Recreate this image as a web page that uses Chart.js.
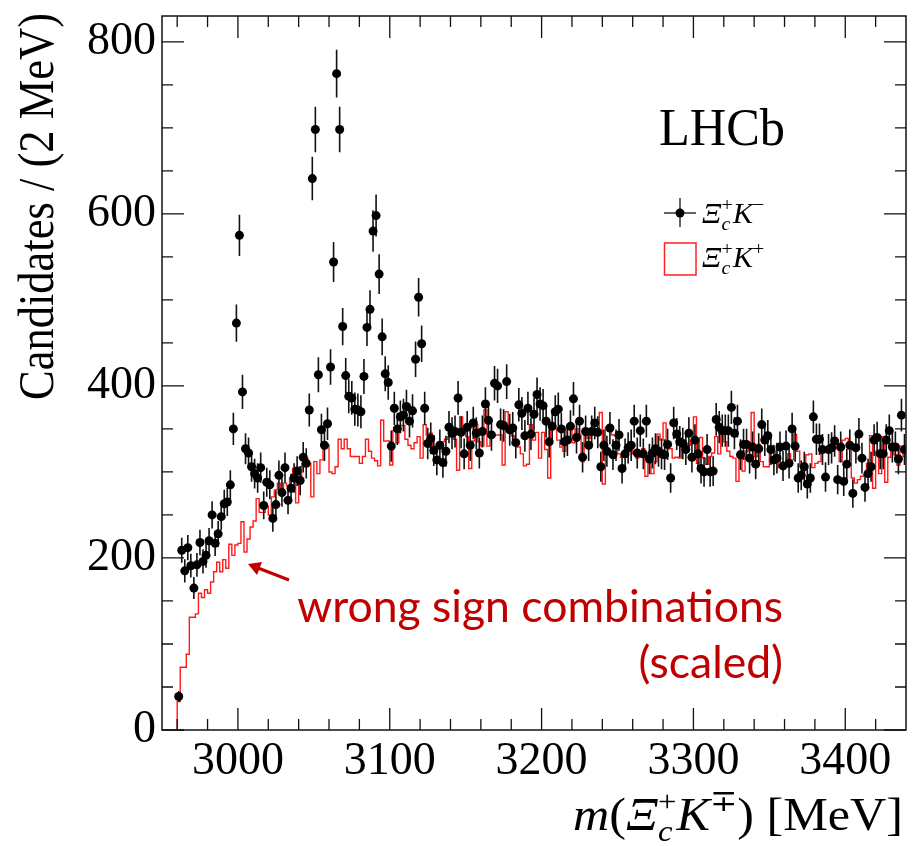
<!DOCTYPE html>
<html>
<head>
<meta charset="utf-8">
<title>Xi_c K mass spectrum</title>
<script src="https://cdn.jsdelivr.net/npm/chart.js@4.4.1/dist/chart.umd.min.js"></script>
<style>
  body { margin: 0; background: #fff; }
  #wrap { width: 915px; height: 846px; }
</style>
</head>
<body>
<div id="wrap"><canvas id="myChart" width="915" height="846"></canvas></div>
<script>
// 2 MeV bins, first bin starts at 2960 MeV
var binStart = 2960;
var binWidth = 2;

// Xi_c+ K- candidates per bin
var rightSign = [
    39, 209, 185, 212, 191, 165, 192, 218, 196, 203,
    220, 250, 217, 228, 248, 263, 265, 285, 350, 473,
    575, 393, 327, 322, 306, 298, 293, 305, 261, 288,
    285, 246, 262, 296, 276, 305, 267, 281, 293, 301,
    290, 317, 310, 372, 641, 698, 413, 349, 331, 356,
    422, 544, 763, 698, 469, 412, 388, 386, 373, 372,
    370, 411, 468, 489, 580, 598, 530, 457, 414, 404,
    330, 374, 350, 364, 366, 376, 359, 371, 431, 503,
    449, 374, 333, 339, 325, 314, 331, 311, 324, 352,
    345, 347, 386, 346, 321, 352, 331, 357, 345, 322,
    347, 379, 360, 343, 403, 400, 355, 354, 405, 349,
    351, 334, 378, 368, 342, 374, 344, 367, 390, 379,
    377, 359, 335, 353, 370, 373, 350, 335, 337, 353,
    385, 340, 359, 317, 347, 331, 347, 357, 346, 306,
    331, 324, 351, 320, 331, 343, 304, 321, 328, 331,
    359, 322, 348, 321, 359, 315, 322, 327, 324, 321,
    320, 332, 293, 357, 344, 335, 333, 326, 345, 317,
    337, 321, 304, 300, 326, 300, 301, 361, 352, 348,
    348, 348, 375, 345, 359, 320, 332, 332, 316, 329,
    309, 327, 355, 337, 342, 326, 314, 316, 329, 307,
    330, 310, 350, 330, 293, 296, 306, 286, 293, 364,
    338, 338, 326, 294, 326, 328, 336, 291, 329, 289,
    309, 331, 275, 328, 344, 316, 282, 298, 306, 337,
    340, 321, 321, 337, 348, 329, 329, 315, 366, 326
];

// Xi_c+ K+ wrong sign histogram (scaled)
var wrongSign = [
    33, 73, 73, 88, 131, 131, 135, 159, 154, 163,
    159, 172, 184, 195, 184, 198, 188, 216, 203, 215,
    217, 242, 207, 222, 236, 243, 269, 253, 253, 260,
    250, 271, 279, 287, 273, 287, 284, 293, 304, 264,
    295, 310, 316, 310, 271, 312, 298, 314, 331, 331,
    300, 298, 306, 338, 327, 338, 327, 318, 318, 318,
    310, 318, 338, 324, 316, 313, 307, 360, 336, 336,
    308, 348, 334, 354, 354, 338, 331, 327, 334, 341,
    316, 355, 343, 345, 326, 330, 333, 335, 338, 341,
    353, 338, 302, 364, 348, 341, 304, 336, 355, 335,
    330, 372, 330, 343, 343, 343, 343, 308, 370, 345,
    342, 331, 329, 321, 307, 309, 355, 337, 346, 316,
    346, 326, 293, 352, 350, 337, 329, 324, 350, 350,
    334, 350, 343, 312, 347, 339, 345, 350, 345, 369,
    286, 352, 349, 343, 342, 321, 317, 324, 326, 327,
    321, 316, 317, 327, 295, 312, 298, 312, 344, 337,
    357, 327, 327, 316, 317, 316, 329, 333, 331, 337,
    364, 310, 340, 316, 309, 318, 322, 341, 321, 343,
    335, 324, 318, 316, 289, 324, 301, 324, 327, 369,
    318, 332, 312, 306, 306, 324, 324, 314, 305, 303,
    310, 321, 314, 344, 324, 306, 310, 320, 321, 305,
    310, 312, 327, 326, 327, 327, 329, 327, 312, 337,
    339, 329, 293, 287, 291, 295, 297, 310, 342, 281,
    324, 298, 341, 288, 317, 330, 320, 308, 330, 318
];

var xTickLabels = [3000, 3100, 3200, 3300, 3400];
var yTickLabels = [0, 200, 400, 600, 800];

var serif = "'Liberation Serif', 'DejaVu Serif', serif";
var darkRed = '#c00000';

// points at bin centres
function pointData() {
    var out = [];
    for (var i = 0; i < rightSign.length; i++) {
        out.push({ x: binStart + binWidth * (i + 0.5), y: rightSign[i] });
    }
    return out;
}

// histogram outline: both edges of every bin
function stepData() {
    var out = [{ x: binStart, y: 0 }];
    for (var i = 0; i < wrongSign.length; i++) {
        out.push({ x: binStart + binWidth * i, y: wrongSign[i] });
        out.push({ x: binStart + binWidth * (i + 1), y: wrongSign[i] });
    }
    return out;
}

// text with sub/superscripts; parts with keep:true do not advance the pen
function layoutRich(ctx, parts) {
    var x = 0, held = 0, items = [];
    parts.forEach(function(p) {
        ctx.font = p.f;
        var w = ctx.measureText(p.t).width;
        items.push({ p: p, x: x });
        if (p.keep) {
            held = Math.max(held, w);
        } else {
            x += Math.max(w, held);
            held = 0;
        }
    });
    return { items: items, width: x };
}

function drawRich(ctx, parts, left, base, sx, color) {
    var lay = layoutRich(ctx, parts);
    ctx.save();
    ctx.translate(left, base);
    ctx.scale(sx, 1);
    ctx.fillStyle = color;
    ctx.textAlign = 'left';
    ctx.textBaseline = 'alphabetic';
    lay.items.forEach(function(it) {
        ctx.font = it.p.f;
        ctx.fillText(it.p.t, it.x, it.p.dy || 0);
    });
    ctx.restore();
    return lay.width * sx;
}

function xiK(size, sign) {
    var small = Math.round(size * 0.66);
    return [
        { t: '\u039E', f: 'italic ' + size + 'px ' + serif },
        { t: 'c', f: 'italic ' + small + 'px ' + serif, dy: size * 0.24, keep: true },
        { t: '+', f: small + 'px ' + serif, dy: -size * 0.42 },
        { t: 'K', f: 'italic ' + size + 'px ' + serif },
        { t: sign, f: small + 'px ' + serif, dy: -size * 0.42 }
    ];
}

var rootStyle = {
    id: 'rootStyle',
    beforeDatasetDraw: function(chart, args) {
        if (args.index !== 1) return;
        // vertical error bars, sqrt(N)
        var ctx = chart.ctx, xs = chart.scales.x, ys = chart.scales.y;
        ctx.save();
        ctx.strokeStyle = '#111';
        ctx.lineWidth = 1.6;
        ctx.beginPath();
        for (var i = 0; i < rightSign.length; i++) {
            var px = xs.getPixelForValue(binStart + binWidth * (i + 0.5));
            var e = Math.sqrt(rightSign[i]);
            ctx.moveTo(px, ys.getPixelForValue(rightSign[i] - e));
            ctx.lineTo(px, ys.getPixelForValue(rightSign[i] + e));
        }
        ctx.stroke();
        ctx.restore();
    },
    afterDraw: function(chart) {
        var ctx = chart.ctx, a = chart.chartArea;
        var xs = chart.scales.x, ys = chart.scales.y;
        var m, v, p, len;

        // frame
        ctx.save();
        ctx.strokeStyle = '#111';
        ctx.lineWidth = 1.5;
        ctx.strokeRect(a.left, a.top, a.right - a.left, a.bottom - a.top);

        // inward ticks on all four sides
        ctx.lineWidth = 1.3;
        ctx.beginPath();
        for (m = 2960; m < 3440; m += 20) {
            p = xs.getPixelForValue(m);
            len = (m % 100 === 0) ? 22 : 11;
            ctx.moveTo(p, a.bottom); ctx.lineTo(p, a.bottom - len);
            ctx.moveTo(p, a.top); ctx.lineTo(p, a.top + len);
        }
        for (v = 0; v <= 800; v += 50) {
            p = ys.getPixelForValue(v);
            len = (v % 200 === 0) ? 22 : 11;
            ctx.moveTo(a.left, p); ctx.lineTo(a.left + len, p);
            ctx.moveTo(a.right, p); ctx.lineTo(a.right - len, p);
        }
        ctx.stroke();

        // y title, rotated
        var yTitle = 'Candidates / (2 MeV)';
        ctx.font = '50px ' + serif;
        var tw = ctx.measureText(yTitle).width;
        ctx.translate(53, 13);
        ctx.rotate(-Math.PI / 2);
        ctx.scale(387 / tw, 1);
        ctx.fillStyle = '#000';
        ctx.textAlign = 'right';
        ctx.textBaseline = 'alphabetic';
        ctx.fillText(yTitle, 0, 0);
        ctx.restore();

        // x title
        var xParts = [{ t: 'm', f: 'italic 46px ' + serif }, { t: '(', f: '46px ' + serif }]
            .concat(xiK(46, '\u2213'))
            .concat([{ t: ')', f: '46px ' + serif }, { t: ' [MeV]', f: '46px ' + serif }]);
        var xw = layoutRich(ctx, xParts).width;
        var sx = 330 / xw;
        drawRich(ctx, xParts, 903 - xw * sx, 830, sx, '#000');

        // LHCb label
        ctx.save();
        ctx.font = '52px ' + serif;
        var lw = ctx.measureText('LHCb').width;
        ctx.translate(659, 145);
        ctx.scale(126 / lw, 1);
        ctx.fillStyle = '#000';
        ctx.textAlign = 'left';
        ctx.textBaseline = 'alphabetic';
        ctx.fillText('LHCb', 0, 0);
        ctx.restore();

        // legend
        ctx.save();
        ctx.strokeStyle = '#333';
        ctx.lineWidth = 1.5;
        ctx.beginPath();
        ctx.moveTo(664, 213); ctx.lineTo(696, 213);
        ctx.moveTo(680, 198); ctx.lineTo(680, 227);
        ctx.stroke();
        ctx.fillStyle = '#000';
        ctx.beginPath();
        ctx.arc(680, 213, 4.5, 0, Math.PI * 2);
        ctx.fill();
        ctx.strokeStyle = '#ff2020';
        ctx.lineWidth = 1.5;
        ctx.strokeRect(664.5, 243, 31.5, 32);
        ctx.restore();
        drawRich(ctx, xiK(29, '\u2212'), 702, 223, 1.05, '#000');
        drawRich(ctx, xiK(29, '+'), 702, 267, 1.05, '#000');

        // wrong sign annotation
        ctx.save();
        var line1 = 'wrong sign combinations';
        ctx.font = '40px Lato, sans-serif';
        var aw = ctx.measureText(line1).width;
        var size = 40 * 486 / aw;
        ctx.font = size.toFixed(1) + 'px Lato, sans-serif';
        ctx.fillStyle = darkRed;
        ctx.textAlign = 'right';
        ctx.textBaseline = 'alphabetic';
        ctx.fillText(line1, 783, 622);
        ctx.fillText('(scaled)', 783, 678);

        // arrow
        ctx.strokeStyle = darkRed;
        ctx.lineWidth = 3;
        ctx.beginPath();
        ctx.moveTo(289, 580);
        ctx.lineTo(258, 568);
        ctx.stroke();
        ctx.beginPath();
        ctx.moveTo(248, 564);
        ctx.lineTo(262, 562);
        ctx.lineTo(257, 575);
        ctx.closePath();
        ctx.fillStyle = darkRed;
        ctx.fill();
        ctx.restore();
    }
};

var ctx = document.getElementById('myChart');
var myChart = new Chart(ctx, {
    type: 'scatter',
    data: {
        datasets: [
            {
                label: 'wrong sign',
                data: stepData(),
                showLine: true,
                borderColor: '#ff1a1a',
                borderWidth: 1.4,
                pointRadius: 0,
                fill: false,
                tension: 0,
                order: 2
            },
            {
                label: 'right sign',
                data: pointData(),
                showLine: false,
                pointRadius: 4.5,
                pointBackgroundColor: '#000',
                pointBorderWidth: 0,
                order: 1
            }
        ]
    },
    options: {
        responsive: false,
        animation: false,
        devicePixelRatio: 1,
        layout: { padding: { top: 16, right: 9, left: 0, bottom: 0 } },
        plugins: {
            legend: { display: false },
            tooltip: { enabled: false }
        },
        scales: {
            x: {
                type: 'linear',
                min: 2950,
                max: 3440,
                grid: { display: false, drawTicks: false },
                border: { display: false },
                afterBuildTicks: function(s) {
                    s.ticks = xTickLabels.map(function(v) { return { value: v }; });
                },
                afterFit: function(s) {
                    s.height = 116;
                    s.paddingLeft = 0;
                    s.paddingRight = 0;
                },
                ticks: {
                    font: { family: serif, size: 46 },
                    color: '#000',
                    padding: 4,
                    maxRotation: 0,
                    autoSkip: false,
                    callback: function(v) { return String(v); }
                }
            },
            y: {
                min: 0,
                max: 830,
                grid: { display: false, drawTicks: false },
                border: { display: false },
                afterBuildTicks: function(s) {
                    s.ticks = yTickLabels.map(function(v) { return { value: v }; });
                },
                afterFit: function(s) {
                    s.width = 162;
                    s.paddingTop = 0;
                    s.paddingBottom = 0;
                },
                ticks: {
                    font: { family: serif, size: 46 },
                    color: '#000',
                    padding: 6,
                    autoSkip: false,
                    callback: function(v) { return String(v); }
                }
            }
        }
    },
    plugins: [rootStyle]
});
</script>
</body>
</html>
